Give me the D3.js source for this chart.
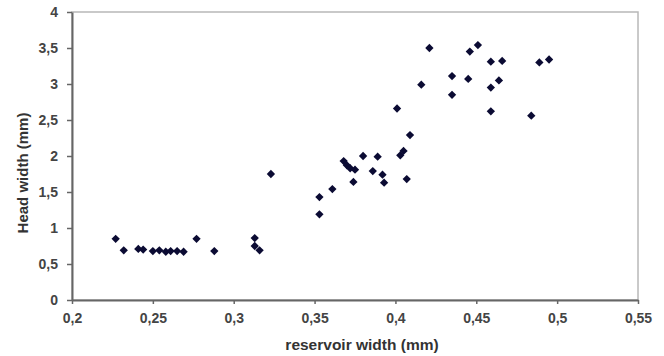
<!DOCTYPE html>
<html>
<head>
<meta charset="utf-8">
<script src="https://cdn.jsdelivr.net/npm/d3@7"></script>
<style>
  html, body { margin: 0; padding: 0; background: #fff; }
  svg { display: block; }
</style>
</head>
<body>
<svg id="chart" width="664" height="356"></svg>
<script>
// reservoir width (mm)
const reservoirWidth = [
  0.227, 0.232, 0.241, 0.244, 0.250, 0.254, 0.258, 0.261, 0.265, 0.269, 0.277, 0.288,
  0.313, 0.313, 0.316, 0.323,
  0.353, 0.353, 0.361, 0.368, 0.370, 0.372, 0.375, 0.374, 0.380, 0.389, 0.386, 0.392,
  0.393, 0.407, 0.403, 0.405, 0.409, 0.401, 0.416, 0.421, 0.435, 0.435, 0.446, 0.445,
  0.451, 0.459, 0.459, 0.459, 0.466, 0.464, 0.484, 0.489, 0.495
];
// head width (mm)
const headWidth = [
  0.85, 0.69, 0.71, 0.70, 0.68, 0.69, 0.67, 0.68, 0.68, 0.67, 0.85, 0.68,
  0.86, 0.75, 0.69, 1.75,
  1.43, 1.19, 1.54, 1.93, 1.87, 1.83, 1.81, 1.64, 2.00, 1.99, 1.79, 1.74,
  1.63, 1.68, 2.01, 2.07, 2.29, 2.66, 2.99, 3.50, 3.11, 2.85, 3.45, 3.07,
  3.54, 3.31, 2.95, 2.62, 3.32, 3.05, 2.56, 3.30, 3.34
];
const xTicks = [0.2, 0.25, 0.3, 0.35, 0.4, 0.45, 0.5, 0.55];
const xTickLabels = ["0,2", "0,25", "0,3", "0,35", "0,4", "0,45", "0,5", "0,55"];
const yTicks = [0, 0.5, 1, 1.5, 2, 2.5, 3, 3.5, 4];
const yTickLabels = ["0", "0,5", "1", "1,5", "2", "2,5", "3", "3,5", "4"];
const xTitle = "reservoir width (mm)";
const yTitle = "Head width (mm)";

(function () {
const svg = d3.select("#chart");
const mLeft = 72, mRight = 638, mTop = 12, mBottom = 300;

const x = d3.scaleLinear().domain([0.2, 0.55]).range([mLeft, mRight]);
const y = d3.scaleLinear().domain([0, 4]).range([mBottom, mTop]);

const font = "'Liberation Sans', Arial, sans-serif";

// plot area frame (top & right light border)
svg.append("rect")
  .attr("x", mLeft).attr("y", mTop)
  .attr("width", mRight - mLeft).attr("height", mBottom - mTop)
  .attr("fill", "#fff")
  .attr("stroke", "#b8b8b8").attr("stroke-width", 1.5);

// x axis
const xAxis = d3.axisBottom(x)
  .tickValues(xTicks)
  .tickFormat((d, i) => xTickLabels[i])
  .tickSize(4).tickPadding(9).tickSizeOuter(0);
const gx = svg.append("g").attr("transform", `translate(0,${mBottom})`).call(xAxis);
gx.select(".domain").attr("stroke", "#666").attr("stroke-width", 2);
gx.selectAll(".tick line").attr("stroke", "#666").attr("stroke-width", 1.5);
gx.selectAll(".tick text")
  .attr("font-family", font).attr("font-size", 14).attr("font-weight", "bold")
  .attr("fill", "#444");

// y axis
const yAxis = d3.axisLeft(y)
  .tickValues(yTicks)
  .tickFormat((d, i) => yTickLabels[i])
  .tickSize(5).tickPadding(9).tickSizeOuter(0);
const gy = svg.append("g").attr("transform", `translate(${mLeft},0)`).call(yAxis);
gy.select(".domain").attr("stroke", "#666").attr("stroke-width", 2);
gy.selectAll(".tick line").attr("stroke", "#666").attr("stroke-width", 1.5);
gy.selectAll(".tick text")
  .attr("font-family", font).attr("font-size", 14).attr("font-weight", "bold")
  .attr("fill", "#444");

// points (diamonds)
const data = reservoirWidth.map((v, i) => ({ x: v, y: headWidth[i] }));
const diamond = d3.symbol().type(d3.symbolDiamond2).size(44);
svg.append("g").selectAll("path")
  .data(data).join("path")
  .attr("d", diamond)
  .attr("transform", d => `translate(${x(d.x)},${y(d.y)})`)
  .attr("fill", "#0b0b33");

// axis titles
svg.append("text")
  .attr("x", 362).attr("y", 350)
  .attr("text-anchor", "middle")
  .attr("font-family", font).attr("font-size", 15.5).attr("font-weight", "bold")
  .attr("fill", "#333")
  .text(xTitle);

svg.append("text")
  .attr("transform", "translate(28,173) rotate(-90)")
  .attr("text-anchor", "middle")
  .attr("font-family", font).attr("font-size", 15).attr("font-weight", "bold")
  .attr("fill", "#333")
  .text(yTitle);
})();
</script>
</body>
</html>
